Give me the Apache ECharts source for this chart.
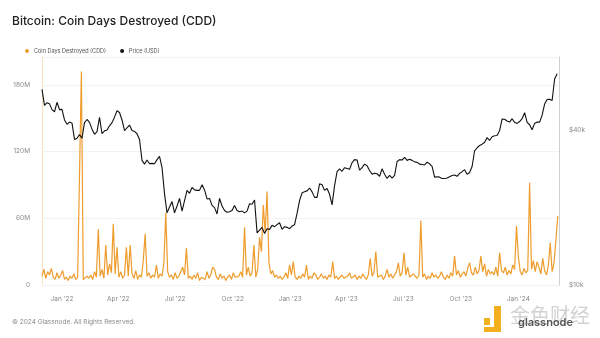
<!DOCTYPE html>
<html>
<head>
<meta charset="utf-8">
<script src="https://cdn.jsdelivr.net/npm/echarts@6/dist/echarts.min.js"></script>
<style>
html,body{margin:0;padding:0;background:#fff;}
#chart{width:600px;height:338px;}
</style>
</head>
<body>
<div id="chart"></div>
<script>
// ---- data ----
const cddStart = [2021, 10, 30];   // 30 Nov 2021 (UTC)
const cddStepDays = 3;
// Coin Days Destroyed, millions
const cddValues = [
  8,14,6,12,9,15,7,5,11,6,9,13,5,7,4,8,6,10,5,7,
  6,192,5,4,8,6,9,5,12,7,50,8,14,6,36,9,19,11,55,10,
  34,7,12,6,9,34,8,36,10,6,13,5,9,7,22,46,8,11,6,9,
  7,18,6,10,8,20,65,12,7,9,5,11,6,8,7,16,9,33,6,8,
  5,9,6,11,4,7,8,5,12,6,9,16,14,7,5,10,6,8,4,7,
  9,5,11,7,6,8,12,7,52,9,16,8,11,36,7,14,43,30,72,47,
  84,20,10,13,7,9,6,8,5,7,11,6,18,9,21,7,5,8,6,10,
  7,18,5,8,6,11,9,5,7,10,6,8,5,9,7,21,6,8,5,7,
  9,6,5,8,11,6,7,9,5,8,6,10,7,5,9,24,8,11,30,7,
  6,9,5,8,14,7,10,6,9,12,20,8,11,29,9,16,7,6,10,8,
  6,9,58,7,10,5,8,6,11,7,9,6,8,12,7,5,9,6,11,8,
  26,9,13,7,10,12,8,15,20,11,9,16,10,13,26,12,19,8,14,10,
  12,9,16,8,29,13,11,16,9,13,10,18,14,53,25,12,9,15,11,13,
  92,14,22,12,21,16,10,24,13,9,18,38,12,20,40,62
];
const priceStart = [2021, 10, 30];
const priceStepDays = 4;
// BTC price, thousands USD
const priceValues = [
  57.0,49.4,50.6,50.1,47.6,46.7,50.8,47.6,47.7,43.4,
  41.8,42.6,42.2,36.5,36.9,38.1,36.9,42.4,43.6,42.5,
  40.0,38.2,39.1,44.4,38.4,39.4,39.7,41.2,42.4,44.5,
  47.1,46.4,43.4,39.5,40.5,41.5,39.5,39.2,38.4,36.5,
  30.3,29.3,30.4,29.4,29.5,29.4,30.5,31.4,28.4,22.5,
  19.0,20.0,21.0,19.0,20.2,21.6,19.3,21.2,23.2,22.6,
  23.8,23.3,23.2,23.2,24.4,23.3,21.5,21.6,20.3,19.9,
  18.8,21.6,20.2,19.4,19.1,19.2,19.4,20.3,19.4,19.2,
  19.3,19.0,19.3,20.6,20.5,21.3,15.9,16.3,16.7,15.8,
  16.5,16.4,17.0,16.8,17.1,17.4,16.4,16.8,16.7,16.5,
  16.9,17.1,18.9,21.2,22.7,22.9,23.1,23.7,22.9,21.8,
  21.8,24.6,24.4,23.2,23.6,22.4,20.4,24.2,27.4,28.1,
  27.5,28.4,28.2,28.0,29.7,30.5,30.4,27.8,28.4,29.3,
  28.9,27.7,26.8,27.0,26.9,26.3,28.1,26.8,25.8,26.5,
  25.9,26.5,30.0,30.5,30.4,31.1,30.3,30.6,30.3,29.9,
  29.8,29.3,29.2,29.1,29.8,29.4,28.7,26.1,26.2,26.1,
  25.8,25.8,25.9,26.2,26.5,26.6,26.3,27.0,27.4,27.9,
  26.8,27.2,28.7,33.0,33.9,34.6,35.0,35.6,37.1,36.2,
  37.4,37.7,37.8,39.5,43.8,43.7,43.0,42.6,43.9,42.5,
  42.1,42.8,43.9,46.3,42.5,41.6,39.8,42.1,42.6,42.6,
  45.3,50.0,52.1,52.2,51.6,62.5,65.5
];
const xTickLabels = ["Jan '22","Apr '22","Jul '22","Oct '22","Jan '23","Apr '23","Jul '23","Oct '23","Jan '24"];
const xTickDates = [[2022,0,1],[2022,3,1],[2022,6,1],[2022,9,1],[2023,0,1],[2023,3,1],[2023,6,1],[2023,9,1],[2024,0,1]];
const leftTicks = [0, 60, 120, 180];
const rightTicks = [10, 40];

// ---- build ----
const DAY = 86400000;
const toSeries = (start, step, vals) => {
  const t0 = Date.UTC(start[0], start[1], start[2]);
  return vals.map((v, i) => [t0 + i * step * DAY, v]);
};
const xTickTimes = xTickDates.map(d => Date.UTC(d[0], d[1], d[2]));
const labelFont = 'Inter, "Noto Sans", sans-serif';

const chart = echarts.init(document.getElementById('chart'), null, {renderer: 'canvas'});
chart.setOption({
  backgroundColor: '#fff',
  animation: false,
  title: {
    text: 'Bitcoin: Coin Days Destroyed (CDD)',
    left: 7, top: 10,
    textStyle: {fontFamily: labelFont, fontSize: 12, fontWeight: 500, color: '#222'}
  },
  legend: {
    left: 20, top: 43,
    icon: 'circle', itemWidth: 4, itemHeight: 4, itemGap: 14,
    textStyle: {fontFamily: labelFont, fontSize: 5.5, color: '#555'},
    data: ['Coin Days Destroyed (CDD)', 'Price (USD)']
  },
  grid: {left: 42, right: 41, top: 57, bottom: 53, containLabel: false},
  xAxis: {
    type: 'value',
    min: Date.UTC(2021, 10, 30),
    max: Date.UTC(2024, 2, 6),
    axisLine: {show: false},
    axisTick: {show: false},
    splitLine: {show: false},
    axisLabel: {
      customValues: xTickTimes,
      formatter: (v) => {
        const i = xTickTimes.findIndex(t => Math.abs(t - v) < DAY);
        return i >= 0 ? xTickLabels[i] : '';
      },
      margin: 11, fontSize: 6.5, color: '#888', fontFamily: labelFont
    }
  },
  yAxis: [
    {
      type: 'value', min: 0, max: 205, interval: 60,
      position: 'left',
      axisLine: {show: true, lineStyle: {color: '#f6e3c4', width: 1}},
      axisTick: {show: false},
      splitLine: {show: true, lineStyle: {color: '#f2f2f2', width: 1}},
      axisLabel: {
        showMaxLabel: false,
        formatter: (v) => leftTicks.includes(v) ? (v === 0 ? '0' : v + 'M') : '',
        margin: 12, fontSize: 6.5, color: '#888', fontFamily: labelFont
      }
    },
    {
      type: 'log', logBase: 10, min: 10, max: 76, interval: 0.2,
      position: 'right',
      axisLine: {show: true, lineStyle: {color: '#cfcfcf', width: 1}},
      axisTick: {show: false},
      splitLine: {show: false},
      axisLabel: {
        showMaxLabel: false,
        formatter: (v) => {
          const hit = rightTicks.find(t => Math.abs(Math.log10(v) - Math.log10(t)) < 0.01);
          return hit ? '$' + hit + 'k' : '';
        },
        margin: 10, fontSize: 6.5, color: '#888', fontFamily: labelFont
      }
    }
  ],
  series: [
    {
      name: 'Coin Days Destroyed (CDD)',
      type: 'line', yAxisIndex: 0,
      data: toSeries(cddStart, cddStepDays, cddValues),
      showSymbol: false, symbol: 'circle',
      lineStyle: {color: '#ee9c2c', width: 1.2},
      itemStyle: {color: '#ee9c2c'},
      z: 2
    },
    {
      name: 'Price (USD)',
      type: 'line', yAxisIndex: 1,
      data: toSeries(priceStart, priceStepDays, priceValues),
      showSymbol: false, symbol: 'circle',
      lineStyle: {color: '#111', width: 1.1},
      itemStyle: {color: '#111'},
      z: 3
    }
  ],
  graphic: [
    {type: 'text', left: 12, top: 319,
     style: {text: '© 2024 Glassnode. All Rights Reserved.', fontSize: 6.5, fill: '#888', fontFamily: labelFont}},
    {type: 'rect', shape: {x: 484, y: 318, width: 6, height: 7}, style: {fill: '#f2b01e'}},
    {type: 'rect', shape: {x: 494, y: 306, width: 7, height: 26}, style: {fill: '#f2b01e'}},
    {type: 'rect', shape: {x: 484, y: 327, width: 17, height: 5}, style: {fill: '#f2b01e'}},
    {type: 'text', left: 510, top: 305,
     style: {text: '金色财经', fontSize: 20, fill: '#d2d2d2', fontFamily: '"Noto Sans CJK SC", sans-serif'}},
    {type: 'text', left: 518, top: 317,
     style: {text: 'glassnode', fontSize: 11, fontWeight: 600, fill: '#555', fontFamily: labelFont}}
  ]
});
</script>
</body>
</html>
